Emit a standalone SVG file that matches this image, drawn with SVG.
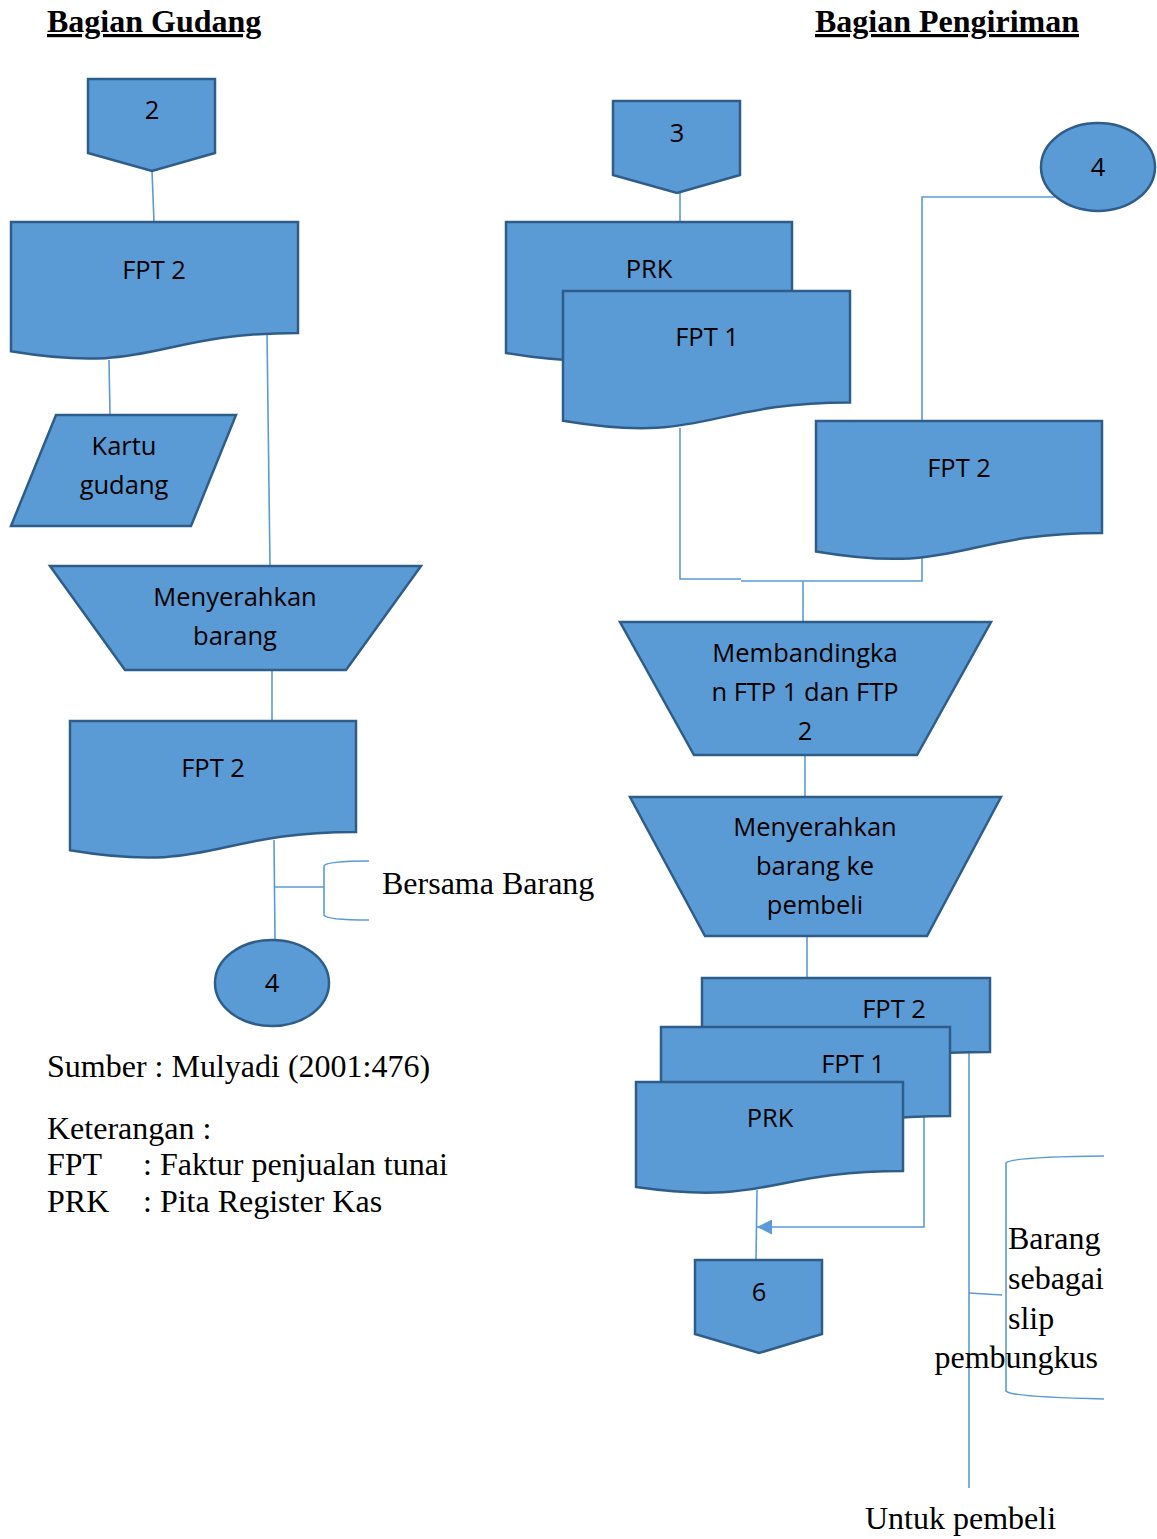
<svg xmlns="http://www.w3.org/2000/svg" width="1157" height="1539" viewBox="0 0 1157 1539">
<style>
.s{fill:#5B9BD5;stroke:#2F5D8A;stroke-width:2.5;stroke-linejoin:miter}
.t{font-family:"Open Sans","Liberation Sans",sans-serif;font-size:25.5px;fill:#000;text-anchor:middle}
.c{fill:none;stroke:#5B9BD5;stroke-width:1.6}
.r{font-family:"Liberation Serif","Times New Roman",serif;font-size:32px;fill:#000}
.h{font-family:"Liberation Serif","Times New Roman",serif;font-size:32px;font-weight:bold;fill:#000;text-decoration:underline}
</style>
<defs>
<marker id="ah" viewBox="0 0 10 10" refX="10" refY="5" markerWidth="15" markerHeight="15" markerUnits="userSpaceOnUse" orient="auto">
<path d="M0,0 L10,5 L0,10 Z" fill="#5B9BD5"/>
</marker>
</defs>

<text class="h" x="47" y="32">Bagian Gudang</text>
<text class="h" x="815" y="32">Bagian Pengiriman</text>

<g id="connectors">
<path class="c" d="M152,171 L154,222"/>
<path class="c" d="M109,360 L110,415"/>
<path class="c" d="M267,333 L270,566"/>
<path class="c" d="M272,670 L272,721"/>
<path class="c" d="M274,840 L275,940"/>
<path class="c" d="M275,887 L324,887"/>
<path class="c" d="M369,861 Q326,861 324,866 L324,915 Q326,920 369,920"/>
<path class="c" d="M680,193 L680,222"/>
<path class="c" d="M680,428 L680,579 L741,579"/>
<path class="c" d="M741,581 L922,581 L922,558"/>
<path class="c" d="M1055,197 L922,197 L922,421"/>
<path class="c" d="M803,581 L803,622"/>
<path class="c" d="M805,755 L805,797"/>
<path class="c" d="M807,936 L807,978"/>
<path class="c" d="M757,1190 L756,1260"/>
<path class="c" d="M924,1116 L924,1227 L757,1227" marker-end="url(#ah)" stroke-width="2"/>
<path class="c" d="M969,1052 L969,1488"/>
<path class="c" d="M969,1293 L1002,1295"/>
<path class="c" d="M1104,1156 Q1010,1157 1006,1163 L1006,1391 Q1010,1397 1104,1399"/>
</g>

<g id="n_off2">
<path class="s" d="M88,79 H215 V153 L152,171 L88,153 Z"/>
<text class="t" x="152" y="119">2</text>
</g>
<g id="n_fpt2_a">
<path class="s" d="M11,222 H298 V333 C154.5,333 154.5,375.2 11,351.3 Z"/>
<text class="t" x="154" y="279">FPT 2</text>
</g>
<g id="n_kartu">
<path class="s" d="M56,415 H236 L191,526 H11 Z"/>
<text class="t" x="124" y="455">Kartu</text>
<text class="t" x="124" y="494">gudang</text>
</g>
<g id="n_serah1">
<path class="s" d="M50,566 H421 L346,670 H125 Z"/>
<text class="t" x="235" y="606">Menyerahkan</text>
<text class="t" x="235" y="645">barang</text>
</g>
<g id="n_fpt2_b">
<path class="s" d="M70,721 H356 V832 C213,832 213,874.2 70,850.3 Z"/>
<text class="t" x="213" y="777">FPT 2</text>
</g>
<g id="n_circle4a">
<ellipse class="s" cx="272" cy="983" rx="57" ry="43"/>
<text class="t" x="272" y="992">4</text>
</g>
<text class="r" x="382" y="894">Bersama Barang</text>

<text class="r" x="47" y="1077">Sumber : Mulyadi (2001:476)</text>
<text class="r" x="47" y="1139">Keterangan :</text>
<text class="r" x="47" y="1175">FPT</text>
<text class="r" x="143" y="1175">: Faktur penjualan tunai</text>
<text class="r" x="47" y="1212">PRK</text>
<text class="r" x="143" y="1212">: Pita Register Kas</text>

<g id="n_off3">
<path class="s" d="M613,101 H740 V175 L677,193 L613,175 Z"/>
<text class="t" x="677" y="142">3</text>
</g>
<g id="n_circle4b">
<ellipse class="s" cx="1098" cy="167" rx="57" ry="44"/>
<text class="t" x="1098" y="176">4</text>
</g>
<g id="n_prk_a">
<path class="s" d="M506,222 H792 V334.5 C649,334.5 649,377.3 506,353 Z"/>
<text class="t" x="649" y="278">PRK</text>
</g>
<g id="n_fpt1_a">
<path class="s" d="M563,291 H850 V402.5 C706.5,402.5 706.5,444.9 563,420.8 Z"/>
<text class="t" x="707" y="346">FPT 1</text>
</g>
<g id="n_fpt2_c">
<path class="s" d="M816,421 H1102 V533 C959,533 959,575.6 816,551.5 Z"/>
<text class="t" x="959" y="477">FPT 2</text>
</g>
<g id="n_banding">
<path class="s" d="M620,622 H991 L917,755 H694 Z"/>
<text class="t" x="805" y="662">Membandingka</text>
<text class="t" x="805" y="701">n FTP 1 dan FTP</text>
<text class="t" x="805" y="740">2</text>
</g>
<g id="n_serah2">
<path class="s" d="M630,797 H1001 L927,936 H705 Z"/>
<text class="t" x="815" y="836">Menyerahkan</text>
<text class="t" x="815" y="875">barang ke</text>
<text class="t" x="815" y="914">pembeli</text>
</g>
<g id="n_fpt2_d">
<path class="s" d="M702,978 H990 V1052 C846,1052 846,1080.2 702,1064.2 Z"/>
<text class="t" x="894" y="1018">FPT 2</text>
</g>
<g id="n_fpt1_b">
<path class="s" d="M661,1027 H950 V1116 C805.5,1116 805.5,1149.9 661,1130.7 Z"/>
<text class="t" x="853" y="1073">FPT 1</text>
</g>
<g id="n_prk_b">
<path class="s" d="M636,1082 H903 V1171 C769.5,1171 769.5,1206 636,1187 Z"/>
<text class="t" x="770" y="1127">PRK</text>
</g>
<g id="n_off6">
<path class="s" d="M695,1260 H822 V1334 L759,1353 L695,1334 Z"/>
<text class="t" x="759" y="1301">6</text>
</g>

<text class="r" x="1008" y="1249">Barang</text>
<text class="r" x="1008" y="1289">sebagai</text>
<text class="r" x="1008" y="1329">slip</text>
<text class="r" x="1098" y="1368" text-anchor="end">pembungkus</text>
<text class="r" x="865" y="1529">Untuk pembeli</text>
</svg>
